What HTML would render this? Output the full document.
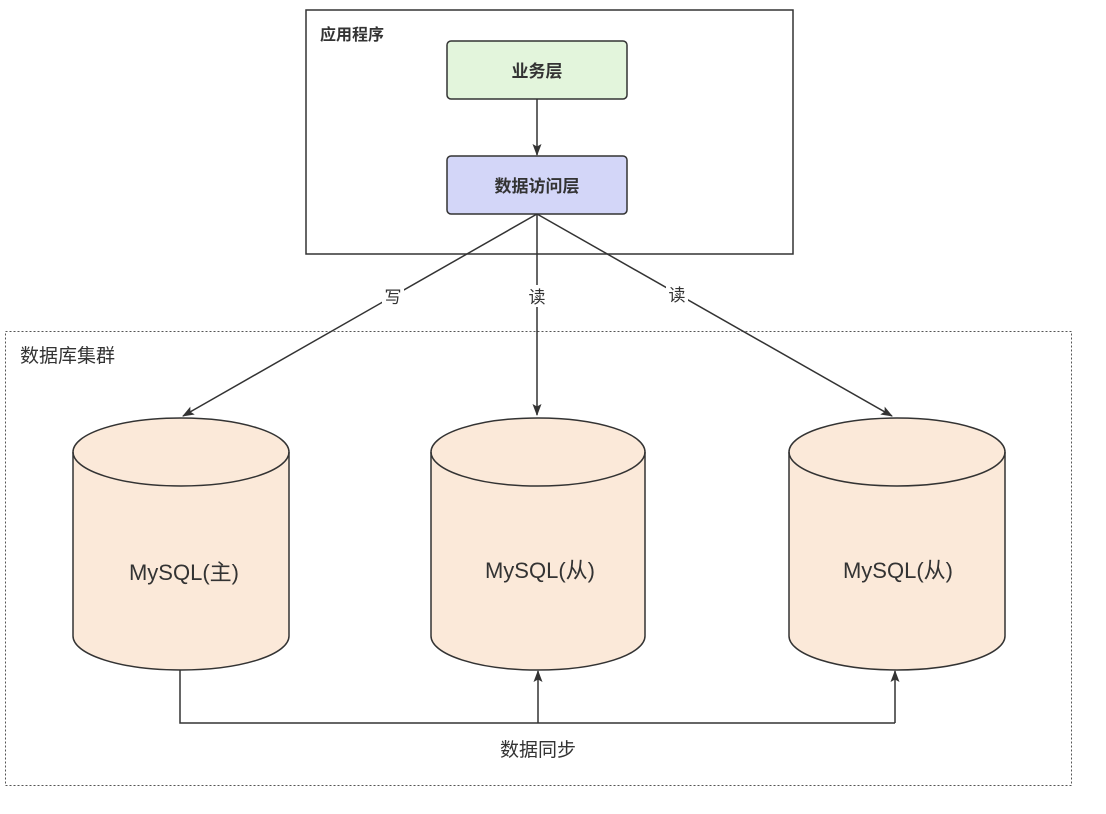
<!DOCTYPE html>
<html><head><meta charset="utf-8"><style>
body{margin:0;background:#fff;}
svg text{font-family:"Liberation Sans","Noto Sans CJK SC",sans-serif;}
</style></head><body>
<svg width="1106" height="809" viewBox="0 0 1106 809" xmlns="http://www.w3.org/2000/svg">
<defs>
<marker id="a" markerWidth="12" markerHeight="12" refX="11" refY="6" orient="auto" markerUnits="userSpaceOnUse">
<path d="M0,1.5 L12,6 L0,10.5 L2.5,6 z" fill="#333"/>
</marker>
</defs>
<rect x="306" y="10" width="487" height="244" fill="#fff" stroke="#333" stroke-width="1.5"/>
<text x="320" y="40" font-size="16" font-weight="bold" fill="#333">应用程序</text>
<rect x="447" y="41" width="180" height="58" rx="4" fill="#e3f5dc" stroke="#333" stroke-width="1.5"/>
<text x="537" y="77" font-size="17" font-weight="bold" fill="#333" text-anchor="middle">业务层</text>
<rect x="447" y="156" width="180" height="58" rx="4" fill="#d3d6f8" stroke="#333" stroke-width="1.5"/>
<text x="537" y="192" font-size="17" font-weight="bold" fill="#333" text-anchor="middle">数据访问层</text>
<line x1="537" y1="99" x2="537" y2="155" stroke="#333" stroke-width="1.5" marker-end="url(#a)"/>
<rect x="5.5" y="331.5" width="1066" height="454" fill="none" stroke="#555" stroke-width="1" stroke-dasharray="2,2"/>
<text x="20" y="362" font-size="19" fill="#333">数据库集群</text>
<g stroke="#333" stroke-width="1.5" fill="none">
<line x1="537" y1="214" x2="183" y2="416" marker-end="url(#a)"/>
<line x1="537" y1="214" x2="537" y2="415" marker-end="url(#a)"/>
<line x1="537" y1="214" x2="892" y2="416" marker-end="url(#a)"/>
</g>
<rect x="382" y="285" width="22" height="22" fill="#fff"/>
<rect x="526" y="285" width="22" height="22" fill="#fff"/>
<rect x="666" y="283" width="22" height="22" fill="#fff"/>
<text x="393" y="303" font-size="17" fill="#333" text-anchor="middle">写</text>
<text x="537" y="303" font-size="17" fill="#333" text-anchor="middle">读</text>
<text x="677" y="301" font-size="17" fill="#333" text-anchor="middle">读</text>
<g stroke="#333" stroke-width="1.5" fill="#fbe9d9">
<path d="M73,452 A108,34 0 0 1 289,452 L289,636 A108,34 0 0 1 73,636 Z"/>
<path d="M73,452 A108,34 0 0 0 289,452" fill="none"/>
<path d="M431,452 A107,34 0 0 1 645,452 L645,636 A107,34 0 0 1 431,636 Z"/>
<path d="M431,452 A107,34 0 0 0 645,452" fill="none"/>
<path d="M789,452 A108,34 0 0 1 1005,452 L1005,636 A108,34 0 0 1 789,636 Z"/>
<path d="M789,452 A108,34 0 0 0 1005,452" fill="none"/>
</g>
<text x="184" y="580" font-size="22" fill="#333" text-anchor="middle">MySQL(主)</text>
<text x="540" y="578" font-size="22" fill="#333" text-anchor="middle">MySQL(从)</text>
<text x="898" y="578" font-size="22" fill="#333" text-anchor="middle">MySQL(从)</text>
<g stroke="#333" stroke-width="1.5" fill="none">
<polyline points="180,670 180,723 895,723"/>
<line x1="538" y1="723" x2="538" y2="671" marker-end="url(#a)"/>
<line x1="895" y1="723" x2="895" y2="671" marker-end="url(#a)"/>
</g>
<text x="538" y="756" font-size="19" fill="#333" text-anchor="middle">数据同步</text>
</svg>
</body></html>
